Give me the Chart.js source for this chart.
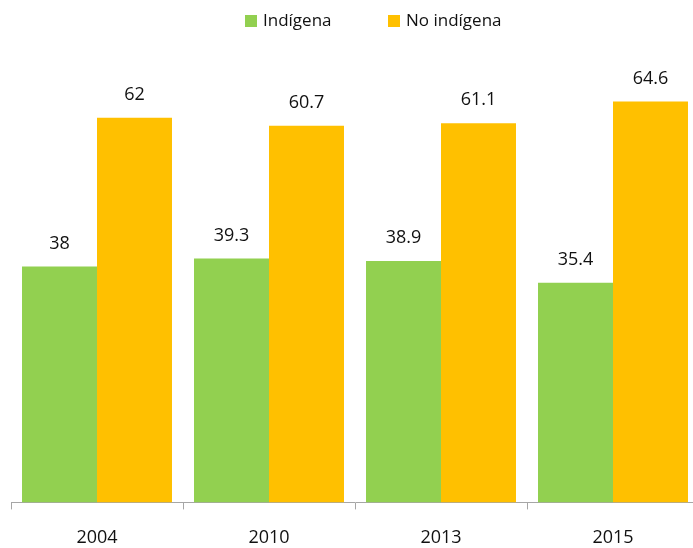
<!DOCTYPE html>
<html>
<head>
<meta charset="utf-8">
<script src="https://cdn.jsdelivr.net/npm/chart.js@4"></script>
<style>
    html, body { margin: 0; padding: 0; background: #fff; overflow: hidden; }
    #chart { display: block; }
</style>
</head>
<body>
<canvas id="chart" width="700" height="567"></canvas>
<script>
(() => {
    const categories = ['2004', '2010', '2013', '2015'];
    const seriesNames = ['Indígena', 'No indígena'];
    const indigena = [38, 39.3, 38.9, 35.4];
    const noIndigena = [62, 60.7, 61.1, 64.6];

    const colors = ['#92D050', '#FFC000'];
    const fontFamily = '"Open Sans", "Noto Sans", sans-serif';
    const textColor = '#111';

    const valueLabels = {
        id: 'valueLabels',
        afterDatasetsDraw(chart) {
            const ctx = chart.ctx;
            ctx.save();
            ctx.font = `18px ${fontFamily}`;
            ctx.fillStyle = textColor;
            ctx.textAlign = 'center';
            ctx.textBaseline = 'middle';
            chart.data.datasets.forEach((ds, i) => {
                chart.getDatasetMeta(i).data.forEach((bar, j) => {
                    ctx.fillText(String(ds.data[j]), bar.x, bar.y - 23);
                });
            });
            ctx.restore();
        },
    };

    // legend drawn by hand so the gap between items matches the original
    const topLegend = {
        id: 'topLegend',
        afterDraw(chart) {
            const ctx = chart.ctx;
            const positions = [245, 388];
            ctx.save();
            ctx.font = `17px ${fontFamily}`;
            ctx.textBaseline = 'middle';
            chart.data.datasets.forEach((ds, i) => {
                const x = positions[i];
                ctx.fillStyle = ds.backgroundColor;
                ctx.fillRect(x, 15, 12, 12);
                ctx.fillStyle = textColor;
                ctx.fillText(ds.label, x + 18, 21);
            });
            ctx.restore();
        },
    };

    new Chart(document.getElementById('chart'), {
        type: 'bar',
        data: {
            labels: categories,
            datasets: [
                { label: seriesNames[0], data: indigena, backgroundColor: colors[0] },
                { label: seriesNames[1], data: noIndigena, backgroundColor: colors[1] },
            ],
        },
        options: {
            responsive: false,
            animation: false,
            devicePixelRatio: 1,
            layout: { padding: { left: 11, right: 1, top: 68, bottom: 0 } },
            datasets: {
                bar: { categoryPercentage: 0.872, barPercentage: 1, borderWidth: 0 },
            },
            plugins: {
                legend: { display: false },
                tooltip: { enabled: false },
            },
            scales: {
                x: {
                    offset: true,
                    border: { display: true, color: '#a6a6a6', width: 1 },
                    grid: {
                        offset: true,
                        drawOnChartArea: false,
                        drawTicks: true,
                        tickLength: 7,
                        color: '#a6a6a6',
                    },
                    ticks: {
                        color: textColor,
                        padding: 18,
                        font: { family: fontFamily, size: 18 },
                    },
                },
                y: {
                    display: false,
                    min: 0,
                    max: 70,
                },
            },
        },
        plugins: [valueLabels, topLegend],
    });
})();
</script>
</body>
</html>
